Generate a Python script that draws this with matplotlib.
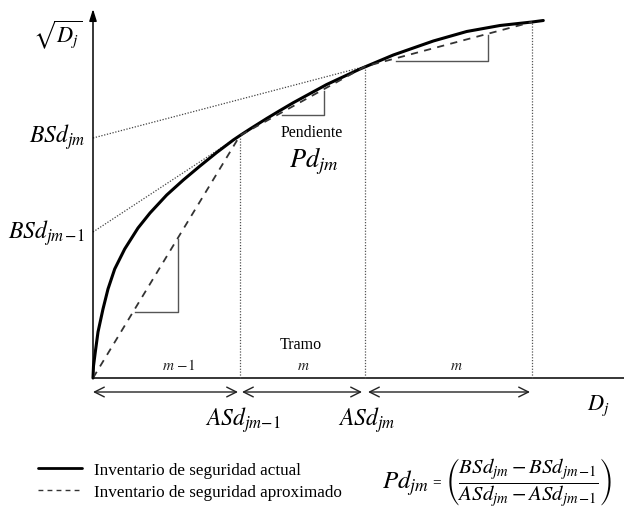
import matplotlib
matplotlib.use("Agg")
import matplotlib.pyplot as plt
from matplotlib.lines import Line2D

plt.rcParams['mathtext.fontset'] = 'stix'
SERIF = 'Liberation Serif'

# ---- data (diagram units) ----
curve_D = [0, 0.5, 2.3, 5, 10, 15, 21.7, 31.7, 45, 57, 73.7, 90.3, 107, 123.7, 140.3, 147,
           157, 173.7, 187, 200.3, 233.7, 267, 300.3, 340.3, 373.7, 407, 439, 450.3]
curve_S = [0, 12, 26, 46, 69, 89, 109, 129, 150, 165, 183, 198, 212, 225.5, 238, 242.5,
           249, 259.5, 267.5, 275.3, 293.5, 309, 323, 337, 346.5, 352.5, 356, 357.5]

knots_D = [0, 147, 272, 439]          # ASd breakpoints
knots_S = [0, 242.5, 311.5, 356]      # approximated (secant) values

bsd_prev = 146                        # BSd_{jm-1} intercept
bsd_cur = 240                         # BSd_{jm} intercept

# slope triangles: (x_left, x_right, y_bottom, y_top)
triangles = [(42, 85, 66, 139), (189, 231, 263, 287), (303, 395, 317, 343)]

# interval arrows
spans = [(0, 145), (149, 269), (275, 437)]
span_labels = [r'$m\ \mathrm{-1}$', r'$m$', r'$m$']
span_label_x = [86, 210, 363]

fig = plt.figure(figsize=(6.24, 5.10), dpi=100)
ax = fig.add_axes([0, 0, 1, 1])
ax.set_xlim(-93, 531)
ax.set_ylim(-131, 379)
ax.axis('off')

# axes
ax.plot([0, 531], [0, 0], color='black', lw=1.1)
ax.annotate('', xy=(0, 369), xytext=(0, 0),
            arrowprops=dict(arrowstyle='-|>,head_length=0.7,head_width=0.22', color='black', lw=1.1,
                            shrinkA=0, shrinkB=0))

# vertical dotted lines
for d, s in zip(knots_D[1:], knots_S[1:]):
    ax.plot([d, d], [0, s], color='#555555', lw=0.9, ls=(0, (1, 1.3)))

# dotted intercept lines
ax.plot([0, knots_D[1]], [bsd_prev, knots_S[1]], color='#444444', lw=0.9, ls=(0, (1, 1.3)))
ax.plot([0, knots_D[2]], [bsd_cur, knots_S[2]], color='#444444', lw=0.9, ls=(0, (1, 1.3)))

# curve and secant approximation
curve, = ax.plot(curve_D, curve_S, color='black', lw=2.2, solid_capstyle='round',
                 solid_joinstyle='round')
approx, = ax.plot(knots_D, knots_S, color='#333333', lw=1.3, ls=(0, (4, 3.5)))

# slope triangles
for x0, x1, y0, y1 in triangles:
    ax.plot([x0, x1, x1], [y0, y0, y1], color='#555555', lw=1.0)

# interval arrows
for a, b in spans:
    ax.annotate('', xy=(b, -14), xytext=(a, -14),
                arrowprops=dict(arrowstyle='<->,head_length=0.7,head_width=0.35', color='#222222', lw=1.0,
                                shrinkA=0, shrinkB=0))

# interval labels
for x, lab in zip(span_label_x, span_labels):
    ax.text(x, 13, lab, ha='center', va='center', fontsize=11, color='#222222')
ax.text(208, 34, 'Tramo', ha='center', va='center', fontsize=11.5, family=SERIF)

# axis labels
ax.text(-35, 344, r'$\sqrt{D_j}$', ha='center', va='center', fontsize=16)
ax.text(505, -27, r'$D_j$', ha='center', va='center', fontsize=16)
ax.text(-8, bsd_cur + 2, r'$BSd_{jm}$', ha='right', va='center', fontsize=17)
ax.text(-8, bsd_prev, r'$BSd_{jm\,\mathrm{-1}}$', ha='right', va='center', fontsize=17)
ax.text(knots_D[1] + 3, -41, r'$ASd_{jm\mathrm{-1}}$', ha='center', va='center', fontsize=17)
ax.text(knots_D[2] + 2, -41, r'$ASd_{jm}$', ha='center', va='center', fontsize=17)

ax.text(219, 246, 'Pendiente', ha='center', va='center', fontsize=11.3, family=SERIF)
ax.text(221, 218, r'$Pd_{jm}$', ha='center', va='center', fontsize=19)

# legend
leg = ax.legend([curve, Line2D([], [], color='#333333', lw=1.0, ls=(0, (3.5, 3)))],
                ['Inventario de seguridad actual', 'Inventario de seguridad aproximado'],
                loc='center left', bbox_to_anchor=(38 / 624, 28 / 510), frameon=False,
                prop={'family': SERIF, 'size': 12.3}, handlelength=2.6, handletextpad=0.65,
                labelspacing=0.4, borderaxespad=0, borderpad=0)
leg.get_lines()[0].set_linewidth(2.0)

# formula
ax.text(289, -104, r'$Pd_{jm}$', ha='left', va='center', fontsize=18)
ax.text(344, -104, '=', ha='center', va='center', fontsize=11, family=SERIF)
ax.text(352, -104,
        r'$\left(\dfrac{BSd_{jm} - BSd_{jm\,\mathrm{-1}}}{ASd_{jm} - ASd_{jm\,\mathrm{-1}}}\right)$',
        ha='left', va='center', fontsize=15)

fig.savefig('out.png', dpi=100)
